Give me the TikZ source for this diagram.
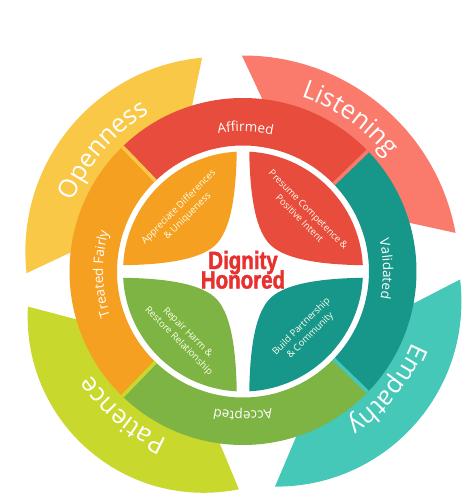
\documentclass[tikz,border=0pt]{standalone}
\usepackage{fontspec}
\setmainfont{Open Sans}
\newfontfamily\dignityfont[FakeStretch=0.82,FakeBold=1.6]{Liberation Sans}
\usetikzlibrary{calc,decorations.text}

\definecolor{openness}{HTML}{F9C846}
\definecolor{listening}{HTML}{FA7A6B}
\definecolor{empathy}{HTML}{46C8B9}
\definecolor{patience}{HTML}{C8D82C}
\definecolor{affirmed}{HTML}{E84C3D}
\definecolor{validated}{HTML}{17968A}
\definecolor{accepted}{HTML}{7DB443}
\definecolor{treated}{HTML}{F6A021}
\definecolor{dignityred}{HTML}{E8302F}

\newcommand{\ringfont}{\fontsize{13.5}{13.5}\selectfont}
\newcommand{\bandfont}{\fontsize{25.5}{25.5}\selectfont}

\tikzset{
  ringlabel/.style={decorate, decoration={text along path, text align=center,
      text color=white, text={|\ringfont|#1}}},
  bandlabel/.style={decorate, decoration={text along path, text align=center,
      text color=white, text={|\bandfont|#1}}},
  leaftext/.style={text=white!92!yellow, align=center, font=\fontsize{9.5}{12.5}\selectfont},
  dignity/.style={text=dignityred, anchor=base,
      font=\dignityfont\bfseries\fontsize{25}{25}\selectfont},
}

\begin{document}
\begin{tikzpicture}[x=1pt, y=1pt]
  \useasboundingbox (-243,-232.5) rectangle (231,271.5);

  % outer bands: a circle cut off by two slanted edges
  \foreach \col/\mida/\off/\rad/\ai/\ao/\bi/\bo in {
      openness/139/30/195/107/101/173.8/180.4,
      listening/50/0/216/16.2/10.3/83.7/90.3,
      empathy/-42/45/185/-72.3/-81.3/-10.5/-2.3,
      patience/229/60/176/195.9/189.5/262.4/268.7}
  {
    \begin{scope}
      \clip (0,0) -- (\ai:174) -- ($(\ai:174)!2.5!(\ao:216)$) -- (\mida:420)
        -- ($(\bi:174)!2.5!(\bo:216)$) -- (\bi:174) -- cycle;
      \fill[\col] (\mida:\off) circle (\rad);
    \end{scope}
  }
  \fill[white] (0,0) circle (126);

  % middle ring
  \foreach \col/\a/\b in {affirmed/44/134, treated/134/226,
      accepted/226/316, validated/-44/44}
    \fill[\col] (\a:173.5) arc[start angle=\a, end angle=\b, radius=173.5]
      -- (\b:126) arc[start angle=\b, end angle=\a, radius=126] -- cycle;
  \foreach \col/\a in {listening/44, openness/134, patience/226, empathy/316}
    \draw[\col, line width=3.5pt] (\a:126) -- (\a:173.5);

  % leaves
  \foreach \col/\rot in {affirmed/0, treated/90, accepted/180, validated/270}
    \fill[\col, rotate=\rot] (3:120) arc[start angle=3, end angle=87, radius=120]
      .. controls (7,70) and (14,40) .. (27,27)
      .. controls (40,14) and (70,7) .. (3:120) -- cycle;

  \node[leaftext, rotate=45] (appreciate) at (135:84.5)
    {Appreciate Differences\\\& Uniqueness};
  \node[leaftext, rotate=-45] (presume) at (43.3:84)
    {Presume Competence \&\\Positive Intent};
  \node[leaftext, rotate=45] (build) at (-43.4:86.7)
    {Build Partnership\\\& Community};
  \node[leaftext, rotate=-45] (repair) at (-132.5:88.8)
    {Repair Harm \&\\Restore Relationship};

  \node[dignity] (dignity) at (0,2.5) {Dignity};
  \node[dignity] (honored) at (0,-17) {Honored};

  % labels on the rings
  \path[ringlabel=Affirmed] (149:140) arc[start angle=149, end angle=29, radius=140];
  \path[ringlabel=Validated] (61:140) arc[start angle=61, end angle=-59, radius=140];
  \path[ringlabel=Accepted] (-30:140) arc[start angle=-30, end angle=-150, radius=140];
  \path[ringlabel=Treated Fairly] (241:140) arc[start angle=241, end angle=121, radius=140];

  \path[bandlabel=Openness] (199:184) arc[start angle=199, end angle=79, radius=184];
  \path[bandlabel=Listening] (115:184) arc[start angle=115, end angle=-5, radius=184];
  \path[bandlabel=Empathy] (21:184) arc[start angle=21, end angle=-99, radius=184];
  \path[bandlabel=Patience] (-70:184) arc[start angle=-70, end angle=-190, radius=184];
\end{tikzpicture}
\end{document}
